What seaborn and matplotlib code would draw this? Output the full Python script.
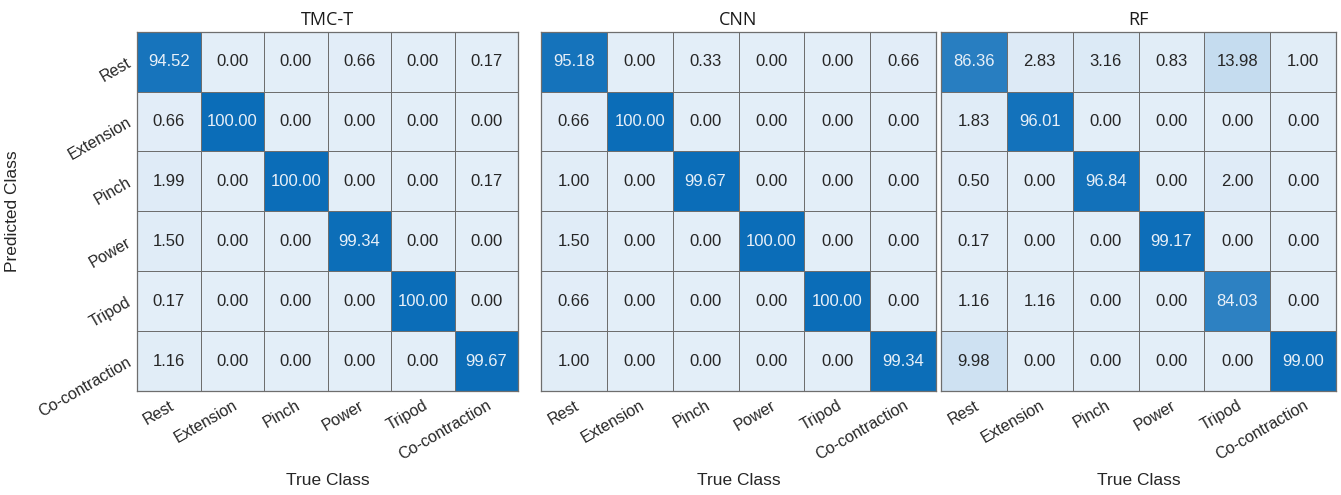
import numpy as np
import pandas as pd
import matplotlib
matplotlib.use("Agg")
import matplotlib.pyplot as plt
from matplotlib.colors import LinearSegmentedColormap
import seaborn as sns

classes = ["Rest", "Extension", "Pinch", "Power", "Tripod", "Co-contraction"]

tmc_t = [
    [94.52, 0.00, 0.00, 0.66, 0.00, 0.17],
    [0.66, 100.00, 0.00, 0.00, 0.00, 0.00],
    [1.99, 0.00, 100.00, 0.00, 0.00, 0.17],
    [1.50, 0.00, 0.00, 99.34, 0.00, 0.00],
    [0.17, 0.00, 0.00, 0.00, 100.00, 0.00],
    [1.16, 0.00, 0.00, 0.00, 0.00, 99.67],
]

cnn = [
    [95.18, 0.00, 0.33, 0.00, 0.00, 0.66],
    [0.66, 100.00, 0.00, 0.00, 0.00, 0.00],
    [1.00, 0.00, 99.67, 0.00, 0.00, 0.00],
    [1.50, 0.00, 0.00, 100.00, 0.00, 0.00],
    [0.66, 0.00, 0.00, 0.00, 100.00, 0.00],
    [1.00, 0.00, 0.00, 0.00, 0.00, 99.34],
]

rf = [
    [86.36, 2.83, 3.16, 0.83, 13.98, 1.00],
    [1.83, 96.01, 0.00, 0.00, 0.00, 0.00],
    [0.50, 0.00, 96.84, 0.00, 2.00, 0.00],
    [0.17, 0.00, 0.00, 99.17, 0.00, 0.00],
    [1.16, 1.16, 0.00, 0.00, 84.03, 0.00],
    [9.98, 0.00, 0.00, 0.00, 0.00, 99.00],
]

titles = ["TMC-T", "CNN", "RF"]
matrices = [tmc_t, cnn, rf]

sns.set_theme(style="white")
plt.rcParams["font.family"] = ["Liberation Sans", "DejaVu Sans"]

cmap = LinearSegmentedColormap.from_list("conf_blue", ["#e3eef8", "#0b6db8"])

fig = plt.figure(figsize=(13.41, 4.95), dpi=100)
W, H = 1341.0, 495.0
boxes = [(137, 381), (541, 395), (941, 395)]
top_px, bot_px = 31.6, 391.0
ax_h = bot_px - top_px

for i, (mat, title) in enumerate(zip(matrices, titles)):
    left, width = boxes[i]
    ax = fig.add_axes([left / W, (H - bot_px) / H, width / W, ax_h / H])
    df = pd.DataFrame(mat, index=classes, columns=classes)
    sns.heatmap(df, ax=ax, cmap=cmap, vmin=0, vmax=100, annot=True, fmt=".2f",
                annot_kws={"fontsize": 12}, linewidths=0.7, linecolor="#6e6e6e",
                cbar=False, square=False)
    vals = np.array(mat).ravel()
    for txt, v in zip(ax.texts, vals):
        txt.set_color("#e8f0f8" if v > 50 else "#262626")
    for side in ax.spines.values():
        side.set_visible(True)
        side.set_color("#6e6e6e")
        side.set_linewidth(0.9)
    ax.tick_params(length=0, pad=5)
    ax.set_xticklabels(classes, rotation=30, ha="right", va="top",
                       rotation_mode="anchor", fontsize=11.5, color="#262626")
    if i == 0:
        ax.set_yticklabels(classes, rotation=30, ha="right", va="center",
                           rotation_mode="anchor", fontsize=11.5, color="#262626")
        ax.set_ylabel("Predicted Class", fontsize=12.5, color="#262626")
        ax.yaxis.set_label_coords((20 - left) / width, 0.5)
    else:
        ax.set_yticklabels([])
        ax.set_ylabel("")
    ax.set_xlabel("True Class", fontsize=12.5, color="#262626")
    ax.xaxis.set_label_coords(0.5, (bot_px - 473) / ax_h)
    ax.set_title(title, fontsize=13, color="#1a1a1a", pad=5,
                 family=["Open Sans", "DejaVu Sans"])

fig.savefig("out.png", dpi=100)
